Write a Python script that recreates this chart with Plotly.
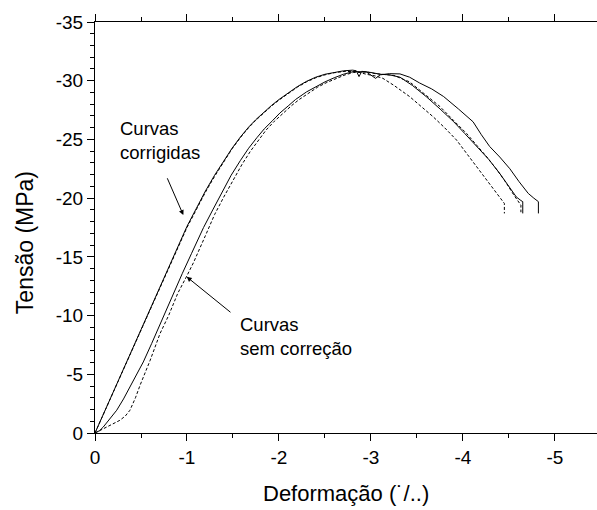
import plotly.graph_objects as go

# Stress-strain curves (strain in per mille, stress in MPa; compression negative)
# Specimen A, corrected
eps_a_corr = [0, -0.1, -0.25, -0.5, -0.75, -1.0, -1.1, -1.2, -1.3, -1.4, -1.49, -1.58, -1.67, -1.75,
              -1.83, -1.92, -2.0, -2.12, -2.2, -2.3, -2.4, -2.5, -2.6, -2.7, -2.8, -2.84, -2.87, -2.9,
              -3.0, -3.1, -3.2, -3.315, -3.45, -3.6, -3.75, -3.9, -4.02, -4.15, -4.28, -4.4, -4.5,
              -4.58, -4.63, -4.65, -4.65]
sig_a_corr = [0, -1.8, -4.4, -8.8, -13.2, -17.6, -19.1, -20.6, -21.95, -23.2, -24.25, -25.2, -26.05, -26.7,
              -27.3, -27.9, -28.4, -29.1, -29.5, -29.95, -30.3, -30.55, -30.72, -30.84, -30.9, -30.85,
              -30.35, -30.8, -30.7, -30.55, -30.5, -30.3, -29.6, -28.65, -27.6, -26.5, -25.5, -24.4,
              -23.3, -22.1, -21.0, -20.1, -19.8, -19.7, -18.7]

# Specimen B, corrected
eps_b_corr = [0, -0.1, -0.25, -0.5, -0.75, -1.0, -1.1, -1.2, -1.3, -1.4, -1.49, -1.58, -1.67, -1.75,
              -1.83, -1.92, -2.0, -2.12, -2.2, -2.3, -2.4, -2.5, -2.6, -2.72, -2.85, -2.95, -3.05,
              -3.13, -3.25, -3.42, -3.55, -3.68, -3.8, -3.93, -4.05, -4.18, -4.28, -4.37, -4.42,
              -4.45, -4.45]
sig_b_corr = [0, -1.75, -4.35, -8.75, -13.1, -17.5, -19.0, -20.5, -21.85, -23.1, -24.2, -25.15, -26.0, -26.65,
              -27.25, -27.85, -28.35, -29.05, -29.45, -29.9, -30.25, -30.5, -30.68, -30.8, -30.75, -30.55,
              -30.4, -30.2, -29.6, -28.65, -27.8, -26.9, -26.0, -24.95, -23.7, -22.35, -21.4, -20.4,
              -19.9, -19.55, -18.7]

# Specimen A, without correction
eps_a_raw = [0, -0.05, -0.09, -0.16, -0.236, -0.31, -0.38, -0.45, -0.525, -0.616, -0.725, -0.85, -0.95,
             -1.05, -1.18, -1.28, -1.38, -1.48, -1.58, -1.67, -1.76, -1.84, -1.93, -2.01, -2.1, -2.18,
             -2.3, -2.4, -2.5, -2.6, -2.7, -2.81, -2.95, -3.05, -3.1, -3.2, -3.315, -3.42, -3.53, -3.66,
             -3.79, -3.95, -4.11, -4.2, -4.29, -4.4, -4.51, -4.61, -4.71, -4.77, -4.82, -4.82]
sig_a_raw = [0, -0.2, -0.51, -1.2, -1.94, -2.9, -3.92, -4.95, -6.05, -7.62, -9.6, -11.8, -13.6,
             -15.3, -17.5, -19.0, -20.5, -21.95, -23.2, -24.25, -25.15, -25.9, -26.6, -27.25, -27.85, -28.4,
             -29.05, -29.5, -29.9, -30.25, -30.55, -30.78, -30.75, -30.2, -30.5, -30.6, -30.58, -30.3,
             -29.8, -29.3, -28.65, -27.6, -26.5, -25.4, -24.4, -23.5, -22.5, -21.4, -20.4, -20.0, -19.7,
             -18.7]

# Specimen B, without correction
eps_b_raw = [0, -0.06, -0.127, -0.2, -0.27, -0.33, -0.38, -0.44, -0.49, -0.6, -0.707, -0.8, -0.9, -1.0,
             -1.07, -1.2, -1.3, -1.4, -1.5, -1.6, -1.69, -1.78, -1.86, -1.95, -2.03, -2.14, -2.22, -2.32,
             -2.42, -2.52, -2.62, -2.72, -2.81, -2.95, -3.05, -3.15, -3.25, -3.42, -3.58, -3.75, -3.9,
             -4.04, -4.15, -4.26, -4.37, -4.47, -4.55, -4.61, -4.63, -4.63]
sig_b_raw = [0, -0.25, -0.51, -0.8, -1.08, -1.45, -1.94, -3.0, -4.07, -6.2, -8.47, -10.0, -11.9, -13.4,
             -14.5, -16.8, -18.6, -20.1, -21.5, -22.9, -24.0, -25.0, -25.8, -26.55, -27.15, -27.9, -28.4,
             -28.95, -29.45, -29.85, -30.2, -30.5, -30.7, -30.75, -30.6, -30.55, -30.45, -29.9, -28.9,
             -27.8, -26.6, -25.5, -24.5, -23.5, -22.4, -21.3, -20.3, -19.6, -19.4, -18.8]

x_ticks = [0, -1, -2, -3, -4, -5]
x_labels = ["0", "-1", "-2", "-3", "-4", "-5"]
y_ticks = [0, -5, -10, -15, -20, -25, -30, -35]
y_labels = ["0", "-5", "-10", "-15", "-20", "-25", "-30", "-35"]

FONT = "Liberation Sans, Arial, sans-serif"

fig = go.Figure()
curves = [
    (eps_b_corr, sig_b_corr, "3px,2px"),
    (eps_a_corr, sig_a_corr, "solid"),
    (eps_b_raw, sig_b_raw, "3px,2px"),
    (eps_a_raw, sig_a_raw, "solid"),
]
for ex, sy, dash in curves:
    fig.add_trace(go.Scatter(x=ex, y=sy, mode="lines",
                             line=dict(color="black", width=1, dash=dash),
                             showlegend=False, hoverinfo="skip"))

axis_common = dict(showgrid=False, zeroline=False, showline=True, linecolor="black", linewidth=1.2,
                   ticks="outside", tickcolor="black", tickwidth=1.2, ticklen=7,
                   tickfont=dict(family=FONT, size=19, color="black"))

fig.update_xaxes(range=[0, -5.457], tickvals=x_ticks, ticktext=x_labels, mirror="ticks",
                 minor=dict(dtick=0.5, ticks="outside", ticklen=4, tickcolor="black", tickwidth=1.2),
                 **axis_common)
fig.update_yaxes(range=[0, -35], tickvals=y_ticks, ticktext=y_labels, mirror=False,
                 minor=dict(dtick=1, ticks="outside", ticklen=4, tickcolor="black", tickwidth=1.2),
                 **axis_common)

ann_font = dict(family=FONT, size=18.5, color="black")
annotations = [
    dict(x=-0.25, y=-24.9, xref="x", yref="y", text="Curvas<br>corrigidas", showarrow=False,
         xanchor="left", yanchor="middle", align="left", font=ann_font),
    dict(x=-1.556, y=-8.2, xref="x", yref="y", text="Curvas<br>sem correção", showarrow=False,
         xanchor="left", yanchor="middle", align="left", font=ann_font),
    dict(x=-0.96, y=-18.56, ax=-0.779, ay=-21.82, xref="x", yref="y", axref="x", ayref="y",
         text="", showarrow=True, arrowhead=2, arrowsize=1, arrowwidth=1, arrowcolor="black"),
    dict(x=-0.997, y=-13.3, ax=-1.489, ay=-10.18, xref="x", yref="y", axref="x", ayref="y",
         text="", showarrow=True, arrowhead=2, arrowsize=1, arrowwidth=1, arrowcolor="black"),
    dict(x=-0.1394, y=0.462, xref="paper", yref="paper", text="Tensão (MPa)", showarrow=False,
         textangle=-90, xanchor="center", yanchor="middle", font=dict(family=FONT, size=23, color="black")),
    dict(x=0.5, y=-0.181, xref="paper", yref="paper", text="Deformação (˙/..)", showarrow=False,
         xanchor="center", yanchor="bottom", borderpad=0,
         font=dict(family=FONT, size=22, color="black")),
]

fig.update_layout(width=597, height=510, margin=dict(l=95, r=0, t=22, b=77),
                  paper_bgcolor="white", plot_bgcolor="white", annotations=annotations)

fig.write_html("out.html")
